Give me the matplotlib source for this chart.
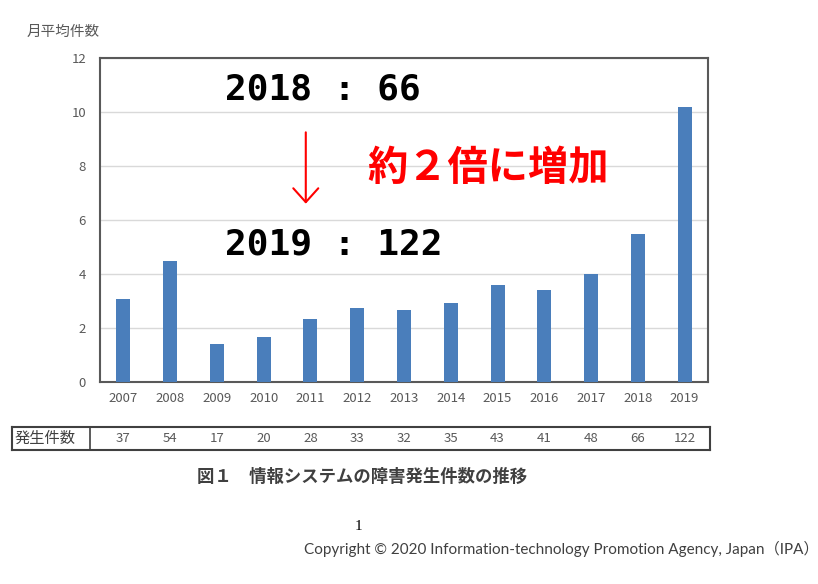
import matplotlib.pyplot as plt

plt.rcParams['font.family'] = ['Noto Sans CJK JP', 'DejaVu Sans']

years = ['2007', '2008', '2009', '2010', '2011', '2012', '2013',
         '2014', '2015', '2016', '2017', '2018', '2019']
counts = [37, 54, 17, 20, 28, 33, 32, 35, 43, 41, 48, 66, 122]
monthly_avg = [3.08, 4.5, 1.42, 1.67, 2.33, 2.75, 2.67, 2.92, 3.58, 3.42, 4.0, 5.5, 10.17]
yticks = [0, 2, 4, 6, 8, 10, 12]

W, H = 818, 584
fig = plt.figure(figsize=(W / 100, H / 100), dpi=100)


def px_axes(x0, y0, x1, y1):
    # pixel box (top-left origin) -> axes
    return fig.add_axes([x0 / W, 1 - y1 / H, (x1 - x0) / W, (y1 - y0) / H])


ax = px_axes(100, 58, 708, 382)
x = range(len(years))
ax.bar(x, monthly_avg, width=0.3, color='#4a7ebb', zorder=3)
ax.set_xlim(-0.5, len(years) - 0.5)
ax.set_ylim(0, 12)
ax.set_yticks(yticks)
ax.set_xticks(list(x))
ax.set_xticklabels(years)
ax.tick_params(length=0, labelsize=9.5, colors='#595959', pad=7)
ax.tick_params(axis='y', pad=10)
ax.grid(axis='y', color='#d9d9d9', linewidth=1, zorder=0)
for s in ax.spines.values():
    s.set_color('#595959')
    s.set_linewidth(1.5)

fig.text(27 / W, 1 - 32 / H, '月平均件数', fontsize=10.5, color='#595959', va='center')

# annotations
bold_mono = dict(family='DejaVu Sans Mono', fontweight='bold', fontsize=26, color='black')
ax.text(2.17, 10.85, '2018 : 66', ha='left', va='center', **bold_mono)
ax.text(2.17, 5.1, '2019 : 122', ha='left', va='center', **bold_mono)
ax.annotate('', xy=(3.9, 6.5), xytext=(3.9, 9.35),
            arrowprops=dict(arrowstyle='->,head_length=1.0,head_width=0.9',
                            color='#ff0000', lw=1.5))
ax.text(5.21, 7.9, '約２倍に増加', ha='left', va='center', fontsize=29,
        fontweight='bold', color='#ff0000')

# count table
tx0, tx1 = 12, 710
unit = 608 / len(years)
tab = px_axes(tx0, 427, tx1, 450)
tab.set_xlim(-0.5 - (100 - tx0) / unit, len(years) - 0.5 + (tx1 - 708) / unit)
tab.set_ylim(0, 1)
tab.set_xticks([])
tab.set_yticks([])
for s in tab.spines.values():
    s.set_color('#404040')
    s.set_linewidth(1.5)
tab.axvline(-0.5 - 10 / unit, color='#404040', lw=1.2)
tab.text(-0.5 - (100 - 15) / unit, 0.5, '発生件数', ha='left', va='center',
         fontsize=11, color='#404040')
for i, c in enumerate(counts):
    tab.text(i, 0.5, str(c), ha='center', va='center', fontsize=9.5, color='#595959')

fig.text(362 / W, 1 - 477 / H, '図１　情報システムの障害発生件数の推移', ha='center',
         va='center', fontsize=12.5, fontweight='bold', color='#404040')
fig.text(358 / W, 1 - 527 / H, '1', ha='center', va='center', fontsize=11,
         family='Liberation Serif', color='black')
fig.text(819 / W, 1 - 549 / H,
         'Copyright © 2020 Information-technology Promotion Agency, Japan（IPA）',
         ha='right', va='center', fontsize=11, color='#404040',
         family=['Lato', 'Noto Sans CJK JP'])

fig.savefig('out.png', dpi=100)
